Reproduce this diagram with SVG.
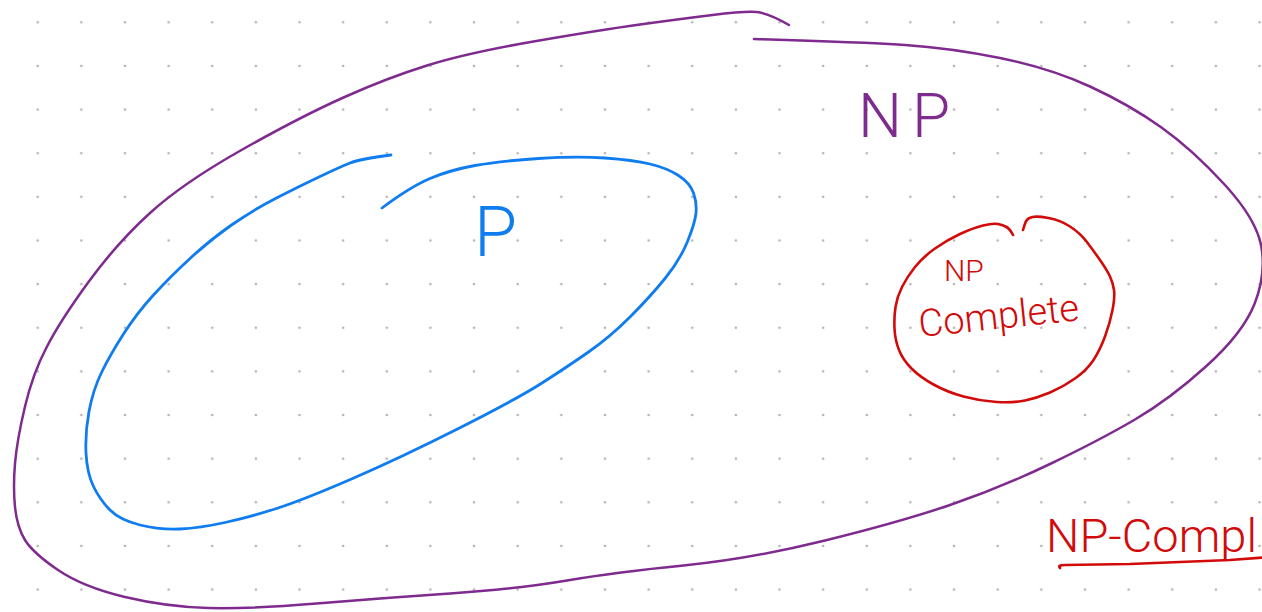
<svg xmlns="http://www.w3.org/2000/svg" width="1262" height="612" viewBox="0 0 1262 612">
  <defs>
    <pattern id="dots" x="15.88" y="0.48" width="43.636" height="43.636" patternUnits="userSpaceOnUse">
      <circle cx="21.818" cy="21.818" r="1.3" fill="#b3b3b3"/>
    </pattern>
    <style>
      .ink { fill: none; stroke-linecap: round; stroke-linejoin: round; }
      .purple { stroke: #7f2a8e; stroke-width: 2.5; }
      .blue { stroke: #0f7cf0; stroke-width: 2.8; }
      .red { stroke: #d20a0a; stroke-width: 2.6; }
      .hand { font-family: Roboto, "Liberation Sans", sans-serif; font-weight: 300; }
    </style>
  </defs>
  <rect width="1262" height="612" fill="#ffffff"/>
  <rect width="1262" height="612" fill="url(#dots)"/>

  <g id="np">
    <path class="ink purple" d="M 789,25 Q 768,13 756.5,12 Q 745,11 712.5,15 Q 680,19 640,24.5 Q 600,30 533.5,41.5 Q 467,53 427,65.5 Q 387,78 343.5,97.5 Q 300,117 241.5,150 Q 183,183 150,213 Q 117,243 88.5,282 Q 60,321 46.5,347.5 Q 33,373 25,406.5 Q 17,440 15,463.5 Q 13,487 15,507 Q 17,527 25,540 Q 33,553 58,570 Q 83,587 125,597 Q 167,607 208.5,608 Q 250,609 316.5,603.5 Q 383,598 450,593.5 Q 517,589 567,580.5 Q 617,572 683.5,565.5 Q 750,559 825,540.5 Q 900,522 950,505 Q 1000,488 1050,464 Q 1100,440 1135,419.5 Q 1170,399 1206.5,366 Q 1243,333 1254.5,304 Q 1266,275 1261.5,247.5 Q 1257,220 1225,185 Q 1193,150 1161.5,127.5 Q 1130,105 1090,86.5 Q 1050,68 1000,58 Q 950,48 905,45 Q 860,42 754,39"/>
    <text class="hand" x="858" y="137" font-size="62" letter-spacing="10" fill="#7f2a8e">NP</text>
  </g>

  <g id="p">
    <path class="ink blue" d="M 391,155 Q 360,159 350,163 Q 340,167 320,176.5 Q 300,186 276.5,198 Q 253,210 231.5,225 Q 210,240 190,258.5 Q 170,277 153.5,295 Q 137,313 123.5,334 Q 110,355 101.5,372.5 Q 93,390 89,411.5 Q 85,433 86,453 Q 87,473 93.5,486.5 Q 100,500 110,510 Q 120,520 140,525 Q 160,530 180,529 Q 200,528 225,522.5 Q 250,517 276.5,508.5 Q 303,500 351.5,479 Q 400,458 458.5,428.5 Q 517,399 542,383 Q 567,367 588.5,352 Q 610,337 630,317 Q 650,297 665,278.5 Q 680,260 687.5,241.5 Q 695,223 696,213 Q 697,203 693.5,193 Q 690,183 678.5,175.5 Q 667,168 650,164 Q 633,160 605,158 Q 577,156 538.5,158.5 Q 500,161 475,165.5 Q 450,170 430,178.5 Q 410,187 382,208"/>
    <text class="hand" x="474" y="256" font-size="70" fill="#0f7cf0">P</text>
  </g>

  <g id="np-complete">
    <path class="ink red" d="M 1013,235 Q 1010,229 1006.5,227 Q 1003,225 998,224 Q 993,223 983,225.5 Q 973,228 960,234 Q 947,240 935,248.5 Q 923,257 915,267 Q 907,277 902,287 Q 897,297 895.5,307 Q 894,317 894.5,328.5 Q 895,340 899,350 Q 903,360 911.5,368.5 Q 920,377 933.5,384.5 Q 947,392 963.5,396.5 Q 980,401 996.5,402 Q 1013,403 1025,400.5 Q 1037,398 1050,392.5 Q 1063,387 1075,378.5 Q 1087,370 1093.5,360 Q 1100,350 1105,336.5 Q 1110,323 1112.5,310 Q 1115,297 1114,290 Q 1113,283 1110,276.5 Q 1107,270 1100,260 Q 1093,250 1086.5,241.5 Q 1080,233 1070,226.5 Q 1060,220 1048.5,218 Q 1037,216 1032.5,217 Q 1028,218 1026.5,220.5 Q 1025,223 1023,230"/>
    <text class="hand" x="944" y="281" font-size="30" fill="#d20a0a">NP</text>
    <text class="hand" x="920" y="337" font-size="38" fill="#d20a0a" transform="rotate(-6 920 337)">Complete</text>
  </g>

  <g id="np-complete-label">
    <text class="hand" x="1046" y="552" font-size="47" fill="#d20a0a">NP-Compl</text>
    <path class="ink red" d="M 1060,568 C 1058,566 1060,565 1065,565 L 1130,564 L 1230,560 L 1264,557.5"/>
  </g>
</svg>
